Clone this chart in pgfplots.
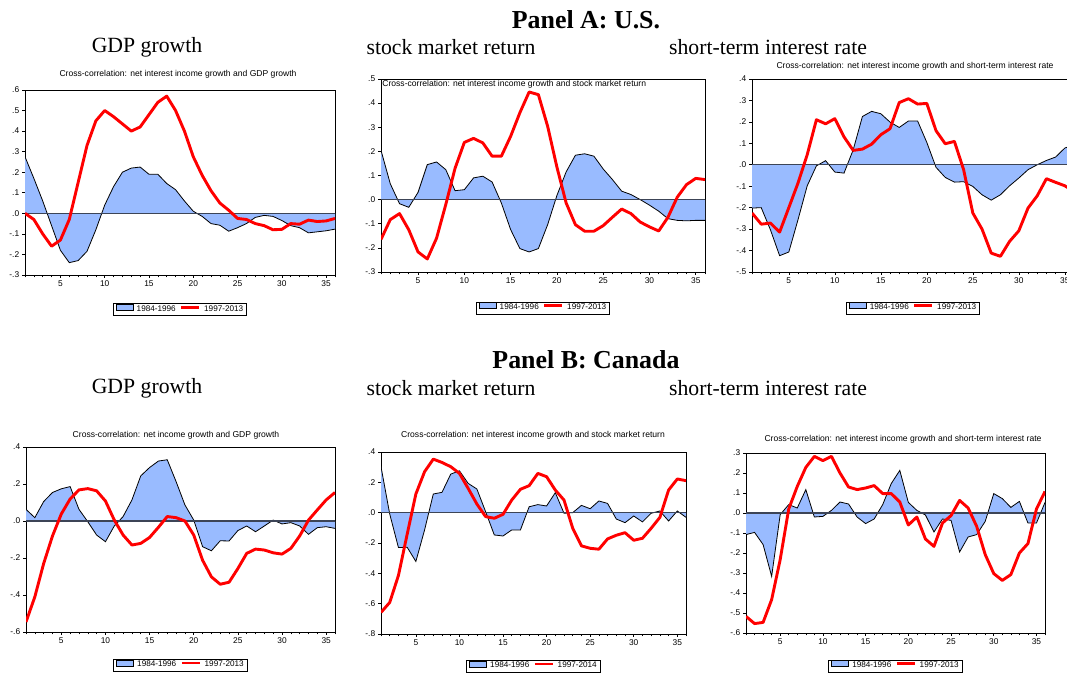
\documentclass[border=0pt]{standalone}
\usepackage{fontspec}
\setmainfont{Liberation Serif}
\setsansfont{Liberation Sans}
\usepackage{pgfplots}
\usepackage{pgfplotstable}
\pgfplotsset{compat=1.18}

\definecolor{nblue}{RGB}{153,187,255}
\definecolor{zline}{RGB}{60,68,86}
\definecolor{nred}{RGB}{255,0,0}

% columns: lag, 1984-1996 (a), later period (b)
\pgfplotstableread{
x a b
1 0.275 0.000
2 0.17 -0.03
3 0.06 -0.10
4 -0.06 -0.16
5 -0.18 -0.13
6 -0.24 -0.03
7 -0.23 0.15
8 -0.185 0.33
9 -0.08 0.45
10 0.04 0.50
11 0.13 0.47
12 0.20 0.435
13 0.22 0.40
14 0.225 0.42
15 0.19 0.48
16 0.19 0.54
17 0.145 0.57
18 0.115 0.50
19 0.06 0.40
20 0.01 0.275
21 -0.015 0.185
22 -0.05 0.11
23 -0.058 0.05
24 -0.087 0.015
25 -0.07 -0.025
26 -0.05 -0.03
27 -0.02 -0.05
28 -0.01 -0.06
29 -0.015 -0.08
30 -0.035 -0.078
31 -0.06 -0.05
32 -0.07 -0.053
33 -0.095 -0.033
34 -0.09 -0.04
35 -0.085 -0.037
36 -0.077 -0.025
}\tAa

\pgfplotstableread{
x a b
1 0.204 -0.165
2 0.066 -0.083
3 -0.017 -0.058
4 -0.032 -0.125
5 0.03 -0.217
6 0.145 -0.246
7 0.156 -0.16
8 0.124 -0.02
9 0.037 0.13
10 0.041 0.237
11 0.09 0.254
12 0.097 0.235
13 0.073 0.18
14 -0.014 0.18
15 -0.124 0.262
16 -0.203 0.36
17 -0.217 0.446
18 -0.203 0.435
19 -0.104 0.304
20 0.017 0.135
21 0.115 -0.014
22 0.184 -0.104
23 0.19 -0.131
24 0.18 -0.131
25 0.127 -0.108
26 0.083 -0.073
27 0.035 -0.039
28 0.021 -0.058
29 0.0 -0.093
30 -0.023 -0.113
31 -0.048 -0.13
32 -0.079 -0.073
33 -0.086 0.01
34 -0.088 0.062
35 -0.086 0.088
36 -0.086 0.083
}\tAb

\pgfplotstableread{
x a b
1 -0.202 -0.225
2 -0.2 -0.277
3 -0.303 -0.272
4 -0.424 -0.314
5 -0.407 -0.2
6 -0.256 -0.085
7 -0.098 0.047
8 -0.005 0.21
9 0.019 0.191
10 -0.034 0.215
11 -0.039 0.13
12 0.07 0.067
13 0.225 0.073
14 0.249 0.096
15 0.238 0.14
16 0.199 0.168
17 0.174 0.29
18 0.204 0.308
19 0.204 0.283
20 0.104 0.286
21 -0.012 0.159
22 -0.059 0.098
23 -0.081 0.109
24 -0.079 -0.023
25 -0.101 -0.225
26 -0.14 -0.3
27 -0.165 -0.412
28 -0.14 -0.427
29 -0.098 -0.357
30 -0.062 -0.308
31 -0.023 -0.202
32 0.0 -0.145
33 0.02 -0.065
34 0.036 -0.082
35 0.078 -0.098
36 0.093 -0.125
}\tAc

\pgfplotstableread{
x a b
1 0.063 -0.546
2 0.018 -0.41
3 0.105 -0.23
4 0.154 -0.081
5 0.174 0.038
6 0.186 0.119
7 0.063 0.168
8 -0.004 0.175
9 -0.076 0.163
10 -0.112 0.108
11 -0.027 0.005
12 0.024 -0.076
13 0.114 -0.13
14 0.244 -0.121
15 0.289 -0.089
16 0.324 -0.034
17 0.331 0.024
18 0.213 0.018
19 0.087 0.0
20 0.005 -0.076
21 -0.139 -0.212
22 -0.161 -0.302
23 -0.107 -0.342
24 -0.108 -0.331
25 -0.052 -0.257
26 -0.027 -0.175
27 -0.058 -0.152
28 -0.027 -0.157
29 0.005 -0.172
30 -0.016 -0.179
31 -0.009 -0.148
32 -0.027 -0.081
33 -0.072 0.005
34 -0.036 0.06
35 -0.031 0.114
36 -0.04 0.154
}\tBa

\pgfplotstableread{
x a b
1 0.303 -0.658
2 -0.009 -0.592
3 -0.23 -0.414
4 -0.228 -0.143
5 -0.322 0.123
6 -0.114 0.27
7 0.123 0.353
8 0.134 0.331
9 0.254 0.303
10 0.276 0.259
11 0.193 0.16
12 0.156 0.057
13 0.007 -0.026
14 -0.147 -0.037
15 -0.154 -0.011
16 -0.114 0.083
17 -0.114 0.154
18 0.039 0.178
19 0.053 0.259
20 0.044 0.237
21 0.132 0.149
22 -0.004 0.083
23 0.0 -0.103
24 0.048 -0.219
25 0.026 -0.235
26 0.077 -0.241
27 0.061 -0.173
28 -0.042 -0.149
29 -0.066 -0.132
30 -0.022 -0.182
31 -0.061 -0.169
32 -0.004 -0.103
33 0.011 -0.031
34 -0.055 0.149
35 0.011 0.222
36 -0.031 0.211
}\tBb

\pgfplotstableread{
x a b
1 -0.108 -0.517
2 -0.097 -0.553
3 -0.158 -0.547
4 -0.317 -0.433
5 -0.008 -0.233
6 0.042 0.02
7 0.025 0.133
8 0.117 0.228
9 -0.02 0.283
10 -0.017 0.262
11 0.013 0.283
12 0.055 0.2
13 0.045 0.13
14 -0.02 0.117
15 -0.053 0.125
16 -0.03 0.137
17 0.042 0.097
18 0.147 0.097
19 0.213 0.055
20 0.053 -0.06
21 0.013 -0.02
22 -0.01 -0.13
23 -0.095 -0.167
24 -0.03 -0.05
25 -0.037 -0.013
26 -0.195 0.063
27 -0.12 0.025
28 -0.108 -0.067
29 -0.042 -0.208
30 0.097 -0.303
31 0.072 -0.337
32 0.028 -0.308
33 0.058 -0.2
34 -0.05 -0.153
35 -0.05 0.02
36 0.053 0.108
}\tBc

\pgfplotsset{
  panel/.style={
    scale only axis,
    anchor=south west,
    xmin=1, xmax=36,
    axis line style={line width=0.45bp},
    tick align=outside,
    xtick pos=left, ytick pos=left,
    major tick length=1.5bp, minor tick length=1.25bp,
    tick style={black, line width=0.3bp},
    xtick={5,10,...,35},
    xticklabels={5,10,15,20,25,30,35},
    minor xtick={1,...,36},
    ticklabel style={font=\fontsize{4.2}{4.6}\selectfont\sffamily, inner sep=1.2bp},
    legend columns=2,
    legend cell align=left,
    legend style={at={(0.5,-0.187)}, anchor=center, draw=black,
      line width=0.3bp, inner xsep=1.2bp, inner ysep=0.2bp,
      nodes={inner sep=0.55bp},
      font=\fontsize{4.1}{4.5}\selectfont\sffamily,
      /tikz/every odd column/.append style={column sep=1.2bp},
      /tikz/every even column/.append style={column sep=1.5bp}},
  },
  areaimg/.style={legend image code/.code={%
    \draw[fill=nblue,draw=black,line width=0.3bp] (0bp,-0.2bp) rectangle (8.5bp,2.8bp);}},
  lineimg/.style={legend image code/.code={%
    \draw[nred,line width=1.4bp] (0bp,1.3bp) -- (9bp,1.3bp);}},
}

% one panel: fill to zero, outline, zero line, red series
\newcommand{\panelplots}[2]{%
  \addplot[areaimg, fill=nblue, draw=none] table[x=x,y=a] {#1} \closedcycle;
  \addlegendentry{1984-1996}
  \addplot[forget plot, black, line width=0.4bp] table[x=x,y=a] {#1};
  \addplot[forget plot, zline, line width=0.6bp] coordinates {(1,0) (36,0)};
  \addplot[lineimg, nred, line width=1.45bp, line join=round] table[x=x,y=b] {#1};
  \addlegendentry{#2}
}

\begin{document}
\begin{tikzpicture}[x=0.5bp,y=0.5bp]
\useasboundingbox (0,0) rectangle (1067,675);
\clip (0,0) rectangle (1067,675);

% ---------- Panel A ----------
\begin{axis}[panel, at={(12.5bp,200bp)}, width=155bp, height=92.5bp,
  ymin=-0.3, ymax=0.6, ytick={-0.3,-0.2,...,0.6},
  yticklabels={-.3,-.2,-.1,.0,.1,.2,.3,.4,.5,.6}]
\panelplots{\tAa}{1997-2013}
\end{axis}

\begin{axis}[panel, at={(190.5bp,201.5bp)}, width=162bp, height=96.5bp,
  ymin=-0.3, ymax=0.5, ytick={-0.3,-0.2,...,0.5},
  yticklabels={-.3,-.2,-.1,.0,.1,.2,.3,.4,.5}]
\panelplots{\tAb}{1997-2013}
\end{axis}

\begin{axis}[panel, at={(376bp,201.5bp)}, width=161bp, height=96.5bp,
  ymin=-0.5, ymax=0.4, ytick={-0.5,-0.4,...,0.4},
  yticklabels={-.5,-.4,-.3,-.2,-.1,.0,.1,.2,.3,.4}]
\panelplots{\tAc}{1997-2013}
\end{axis}

% ---------- Panel B ----------
\begin{axis}[panel, at={(13bp,21.5bp)}, width=154.5bp, height=92.5bp,
  legend style={at={(0.5,-0.18)}},
  ymin=-0.6, ymax=0.4, ytick={-0.6,-0.4,...,0.4},
  yticklabels={-.6,-.4,-.2,.0,.2,.4}]
\panelplots{\tBa}{1997-2013}
\end{axis}

\begin{axis}[panel, at={(190.5bp,20.5bp)}, width=152.5bp, height=91bp,
  legend style={at={(0.5,-0.178)}},
  ymin=-0.8, ymax=0.4, ytick={-0.8,-0.6,...,0.4},
  yticklabels={-.8,-.6,-.4,-.2,.0,.2,.4}]
\panelplots{\tBb}{1997-2014}
\end{axis}

\begin{axis}[panel, at={(373bp,21bp)}, width=149.5bp, height=90bp,
  legend style={at={(0.5,-0.183)}},
  ymin=-0.6, ymax=0.3, ytick={-0.6,-0.5,...,0.3},
  yticklabels={-.6,-.5,-.4,-.3,-.2,-.1,.0,.1,.2,.3}]
\panelplots{\tBc}{1997-2013}
\end{axis}

% ---------- chart titles ----------
\begin{scope}[every node/.style={font=\fontsize{4.3}{5}\selectfont\sffamily, inner sep=0pt}]
\node at (178,601) {Cross-correlation: net interest income growth and GDP growth};
\node[anchor=west] at (382,591) {Cross-correlation: net interest income growth and stock market return};
\node at (915,609) {Cross-correlation: net interest income growth and short-term interest rate};
\node at (176,240) {Cross-correlation: net income growth and GDP growth};
\node at (533,240) {Cross-correlation: net interest income growth and stock market return};
\node at (903,236) {Cross-correlation: net interest income growth and short-term interest rate};
\end{scope}

% ---------- headings ----------
\node[font=\fontsize{13}{15}\selectfont\bfseries] at (586,655) {Panel A: U.S.};
\node[font=\fontsize{13}{15}\selectfont\bfseries] at (586,315) {Panel B: Canada};
\begin{scope}[every node/.style={font=\fontsize{10.9}{12}\selectfont}]
\node at (147,628) {GDP growth};
\node at (451,628) {stock market return};
\node at (768,628) {short-term interest rate};
\node at (147,287) {GDP growth};
\node at (451,287) {stock market return};
\node at (768,287) {short-term interest rate};
\end{scope}
\end{tikzpicture}
\end{document}
